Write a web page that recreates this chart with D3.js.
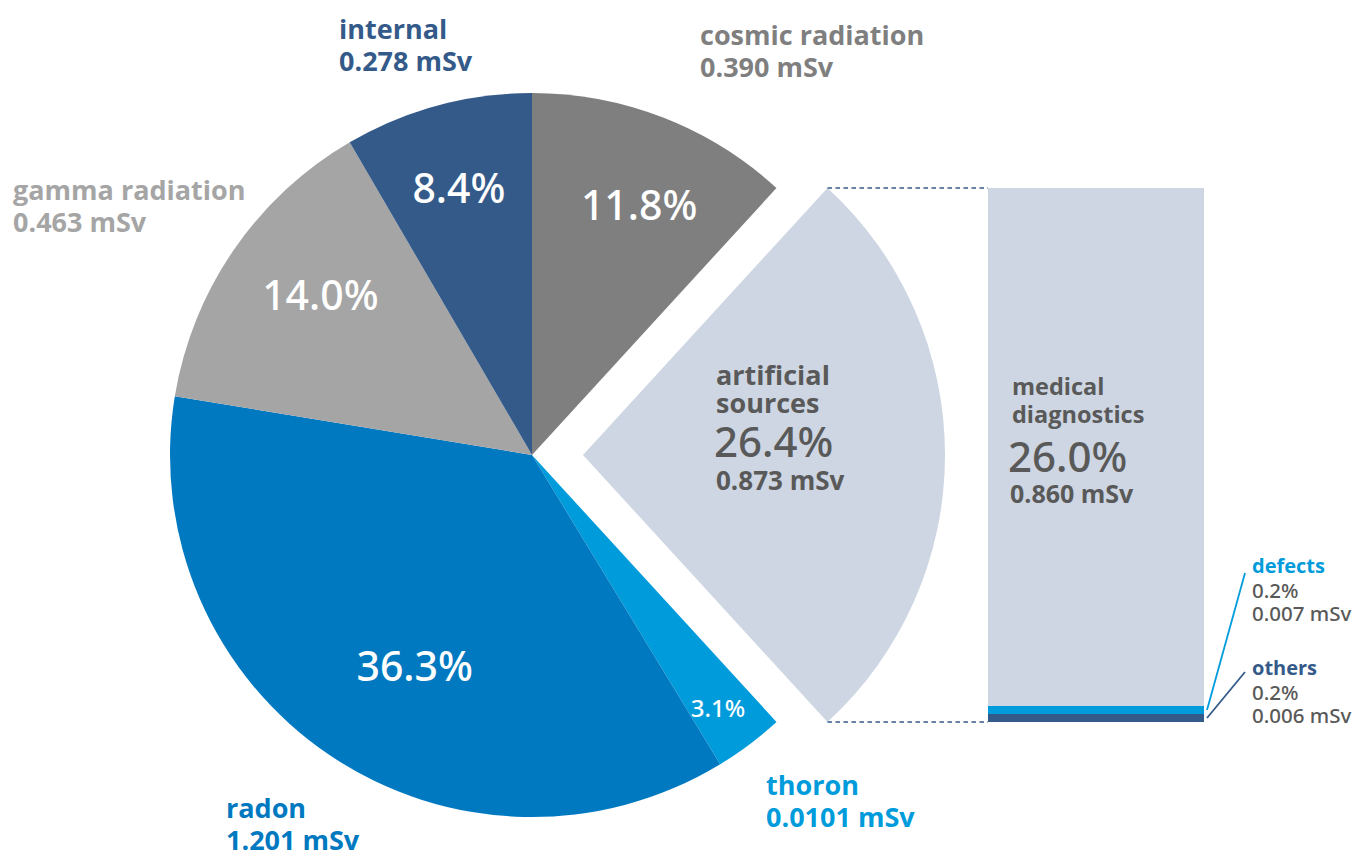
<!DOCTYPE html>
<html>
<head>
<meta charset="utf-8">
<script src="https://cdn.jsdelivr.net/npm/d3@7"></script>
<style>
  html, body { margin: 0; padding: 0; background: #fff; }
  svg { display: block; font-family: "Open Sans", "Noto Sans", sans-serif; }
  .pct { font-family: "Noto Sans", "Open Sans", sans-serif; font-weight: 500; }
</style>
</head>
<body>
<svg id="chart" width="1361" height="855"></svg>
<script>
// ---- data ----
const sliceNames = ["cosmic radiation", "artificial sources", "thoron", "radon", "gamma radiation", "internal"];
const slicePercents = [11.8, 26.4, 3.1, 36.3, 14.0, 8.4];
const sliceDoses = ["0.390", "0.873", "0.0101", "1.201", "0.463", "0.278"];
const barNames = ["others", "defects", "medical diagnostics"];
const barPercents = [0.2, 0.2, 26.0];
const barDoses = ["0.006", "0.007", "0.860"];
const unit = "mSv";

// ---- styles / layout ----
const sliceColors = ["#7f7f7f", "#cdd6e2", "#009bdb", "#0079c1", "#a5a5a5", "#345a8a"];
const labelColors = ["#7f7f7f", "#595959", "#009bdb", "#0079c1", "#a5a5a5", "#345a8a"];
const barColors = ["#345a8a", "#009bdb", "#cdd6e2"];
const textGray = "#595959";
// polar position (deg clockwise from 12 o'clock, radius) of the in-slice percent labels
const pctLabelPolar = [[23.2, 272], null, [143.7, 314], [209, 242], [307, 265], [344.7, 277]];
const pctLabelSize = [41, 0, 24, 41, 41, 41];
// outer labels: [x, baseline of first line]
const outerLabelPos = [[700, 45], null, [766, 795], [226, 818], [13, 200], [339, 39]];

const cx = 532, cy = 455, R = 362, explode = 51;
const barX0 = 988, barX1 = 1204;

const svg = d3.select("#chart");
const slices = sliceNames.map((n, i) => ({ name: n, pct: slicePercents[i], dose: sliceDoses[i], i }));

const pie = d3.pie().sort(null).value(d => d.pct);
const arcs = pie(slices);
const arc = d3.arc().innerRadius(0).outerRadius(R);

const g = svg.append("g").attr("transform", `translate(${cx},${cy})`);

function offsetOf(a) {
  if (a.data.i !== 1) return [0, 0];
  const mid = (a.startAngle + a.endAngle) / 2;
  return [explode * Math.sin(mid), -explode * Math.cos(mid)];
}

g.selectAll("path.slice")
  .data(arcs)
  .join("path")
  .attr("class", "slice")
  .attr("d", arc)
  .attr("fill", d => sliceColors[d.data.i])
  .attr("transform", d => { const o = offsetOf(d); return `translate(${o[0]},${o[1]})`; });

// percent labels inside slices
arcs.forEach(a => {
  const p = pctLabelPolar[a.data.i];
  if (!p) return;
  const ang = p[0] * Math.PI / 180;
  g.append("text")
    .attr("class", "pct")
    .attr("x", p[1] * Math.sin(ang))
    .attr("y", -p[1] * Math.cos(ang))
    .attr("dy", "0.36em")
    .attr("text-anchor", "middle")
    .attr("fill", "#fff")
    .attr("font-size", pctLabelSize[a.data.i])
    .text(a.data.pct.toFixed(1) + "%");
});

// outer labels
arcs.forEach(a => {
  const p = outerLabelPos[a.data.i];
  if (!p) return;
  const t = svg.append("text")
    .attr("x", p[0]).attr("y", p[1])
    .attr("fill", labelColors[a.data.i])
    .attr("font-size", 27)
    .attr("font-weight", 700);
  t.append("tspan").attr("x", p[0]).text(a.data.name);
  t.append("tspan").attr("x", p[0]).attr("dy", 32).text(a.data.dose + " " + unit);
});

// exploded slice text + connector geometry
const art = arcs[1];
const off = offsetOf(art);
const ax = cx + off[0], ay = cy + off[1];
const topCorner = [ax + R * Math.sin(art.startAngle), ay - R * Math.cos(art.startAngle)];
const botCorner = [ax + R * Math.sin(art.endAngle), ay - R * Math.cos(art.endAngle)];

const artWords = art.data.name.split(" ");
function addText(x, yy, size, weight, str, cls) {
  return svg.append("text").attr("class", cls || null).attr("x", x).attr("y", yy)
    .attr("fill", textGray).attr("font-size", size)
    .attr("font-weight", cls ? null : weight).text(str);
}
addText(716, 385, 27, 700, artWords[0]);
addText(716, 413, 27, 700, artWords[1]);
addText(714, 457, 42, 500, art.data.pct.toFixed(1) + "%", "pct");
addText(716, 490, 26, 700, art.data.dose + " " + unit);

// ---- stacked bar ----
const barTop = topCorner[1], barBottom = botCorner[1];
const barTotal = d3.sum(barPercents);
const y = d3.scaleLinear().domain([0, barTotal]).range([barBottom, barTop]);
const minH = 8;
const barData = [];
let cur = barBottom;
barNames.forEach((n, i) => {
  let h = barBottom - y(barPercents[i]);
  if (i < barNames.length - 1) h = Math.max(h, minH);
  else h = cur - barTop;
  barData.push({ name: n, pct: barPercents[i], dose: barDoses[i], y0: cur, y1: cur - h, i });
  cur -= h;
});

svg.selectAll("rect.bar")
  .data(barData)
  .join("rect")
  .attr("class", "bar")
  .attr("x", barX0)
  .attr("width", barX1 - barX0)
  .attr("y", d => d.y1)
  .attr("height", d => d.y0 - d.y1)
  .attr("fill", d => barColors[d.i]);

// dashed connectors
[[topCorner, barTop], [botCorner, barBottom]].forEach(([c, yy]) => {
  svg.append("line")
    .attr("x1", c[0]).attr("y1", yy)
    .attr("x2", barX0).attr("y2", yy)
    .attr("stroke", "#345a8a")
    .attr("stroke-width", 1.6)
    .attr("stroke-dasharray", "4.5,3.5");
});

// medical diagnostics label
const med = barData[2];
const medWords = med.name.split(" ");
addText(1012, 395, 23.5, 700, medWords[0]);
addText(1012, 423, 23.5, 700, medWords[1]);
addText(1008, 472, 42, 500, med.pct.toFixed(1) + "%", "pct");
addText(1010, 503, 25, 700, med.dose + " " + unit);

// small segment labels with leader lines
const smallLabels = [
  { d: barData[1], ty: 573, lineEnd: [1245, 573] },
  { d: barData[0], ty: 675, lineEnd: [1245, 672] }
];
smallLabels.forEach(s => {
  const midY = (s.d.y0 + s.d.y1) / 2;
  svg.append("line")
    .attr("x1", barX1 + 3).attr("y1", midY)
    .attr("x2", s.lineEnd[0]).attr("y2", s.lineEnd[1])
    .attr("stroke", barColors[s.d.i])
    .attr("stroke-width", 1.8);
  svg.append("text").attr("x", 1252).attr("y", s.ty).attr("font-size", 20)
    .attr("fill", barColors[s.d.i]).attr("font-weight", 700).text(s.d.name);
  svg.append("text").attr("class", "pct").attr("x", 1252).attr("y", s.ty + 25).attr("font-size", 20.5)
    .attr("fill", textGray).text(s.d.pct.toFixed(1) + "%");
  svg.append("text").attr("class", "pct").attr("x", 1252).attr("y", s.ty + 48).attr("font-size", 20.5)
    .attr("fill", textGray).text(s.d.dose + " " + unit);
});
</script>
</body>
</html>
